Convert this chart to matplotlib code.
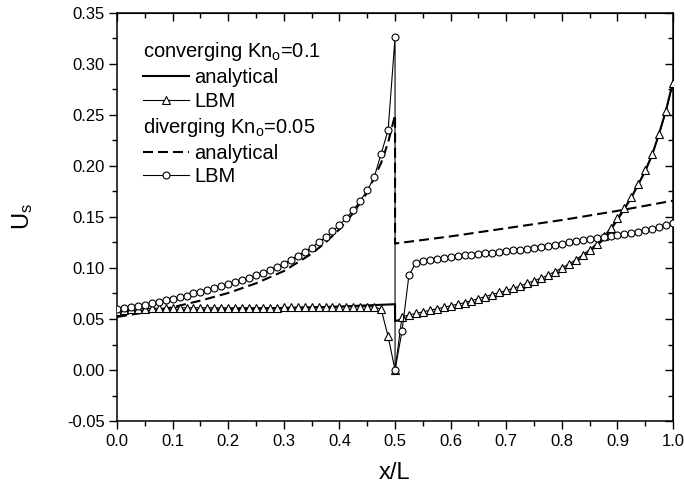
import matplotlib
matplotlib.use("Agg")
import matplotlib.pyplot as plt
from matplotlib.lines import Line2D
from matplotlib.ticker import MultipleLocator, FormatStrFormatter

plt.rcParams['font.family'] = ['Liberation Sans', 'DejaVu Sans']
plt.rcParams['mathtext.fontset'] = 'custom'
plt.rcParams['mathtext.rm'] = 'Liberation Sans'
plt.rcParams['mathtext.it'] = 'Liberation Sans:italic'

# converging channel, Kn_o = 0.1
conv_ana_x = [0.0, 0.1, 0.2, 0.3, 0.4, 0.5,
              0.5, 0.525, 0.55, 0.575, 0.6, 0.625, 0.65, 0.675, 0.7, 0.725,
              0.75, 0.775, 0.8, 0.825, 0.85, 0.875, 0.9, 0.925, 0.95,
              0.9625, 0.975, 0.9875, 1.0]
conv_ana_y = [0.0575, 0.0585, 0.0595, 0.0607, 0.0622, 0.0645,
              0.048, 0.051, 0.054, 0.057, 0.060, 0.063, 0.067, 0.071, 0.075, 0.079,
              0.084, 0.090, 0.097, 0.106, 0.116, 0.128, 0.147, 0.169, 0.195,
              0.211, 0.232, 0.255, 0.283]

conv_lbm_x = [0.0, 0.0125, 0.025, 0.0375, 0.05, 0.0625, 0.075, 0.0875, 0.1, 0.1125,
              0.125, 0.1375, 0.15, 0.1625, 0.175, 0.1875, 0.2, 0.2125, 0.225, 0.2375,
              0.25, 0.2625, 0.275, 0.2875, 0.3, 0.3125, 0.325, 0.3375, 0.35, 0.3625,
              0.375, 0.3875, 0.4, 0.4125, 0.425, 0.4375, 0.45, 0.4625, 0.475, 0.4875,
              0.5,
              0.5125, 0.525, 0.5375, 0.55, 0.5625, 0.575, 0.5875, 0.6, 0.6125, 0.625,
              0.6375, 0.65, 0.6625, 0.675, 0.6875, 0.7, 0.7125, 0.725, 0.7375, 0.75,
              0.7625, 0.775, 0.7875, 0.8, 0.8125, 0.825, 0.8375, 0.85, 0.8625, 0.875,
              0.8875, 0.9, 0.9125, 0.925, 0.9375, 0.95, 0.9625, 0.975, 0.9875, 1.0]
conv_lbm_y = [0.058, 0.059, 0.0595, 0.060, 0.060, 0.0605, 0.0605, 0.0605, 0.061, 0.061,
              0.061, 0.061, 0.061, 0.061, 0.061, 0.061, 0.061, 0.061, 0.061, 0.061,
              0.061, 0.061, 0.061, 0.061, 0.0615, 0.0615, 0.0615, 0.0615, 0.0615, 0.0615,
              0.0615, 0.0615, 0.062, 0.062, 0.062, 0.062, 0.062, 0.062, 0.0595, 0.033,
              0.000,
              0.052, 0.054, 0.0555, 0.057, 0.0585, 0.060, 0.0615, 0.063, 0.0645, 0.066,
              0.068, 0.070, 0.072, 0.074, 0.076, 0.078, 0.080, 0.0825, 0.085, 0.0875,
              0.090, 0.093, 0.0965, 0.100, 0.104, 0.108, 0.113, 0.118, 0.124, 0.131,
              0.139, 0.149, 0.159, 0.170, 0.182, 0.196, 0.212, 0.231, 0.254, 0.281]

# diverging channel, Kn_o = 0.05
div_ana_x = [0.0, 0.05, 0.1, 0.15, 0.2, 0.25, 0.3, 0.35, 0.375, 0.4, 0.425, 0.45,
             0.475, 0.4875, 0.5, 0.5, 0.6, 0.7, 0.8, 0.9, 1.0]
div_ana_y = [0.052, 0.0565, 0.0615, 0.068, 0.0755, 0.085, 0.097, 0.114, 0.125, 0.138,
             0.154, 0.174, 0.203, 0.223, 0.250, 0.124, 0.131, 0.139, 0.147, 0.156, 0.166]

div_lbm_x = [0.0, 0.0125, 0.025, 0.0375, 0.05, 0.0625, 0.075, 0.0875, 0.1, 0.1125,
             0.125, 0.1375, 0.15, 0.1625, 0.175, 0.1875, 0.2, 0.2125, 0.225, 0.2375,
             0.25, 0.2625, 0.275, 0.2875, 0.3, 0.3125, 0.325, 0.3375, 0.35, 0.3625,
             0.375, 0.3875, 0.4, 0.4125, 0.425, 0.4375, 0.45, 0.4625, 0.475, 0.4875,
             0.5, 0.5,
             0.5125, 0.525, 0.5375, 0.55, 0.5625, 0.575, 0.5875, 0.6, 0.6125, 0.625,
             0.6375, 0.65, 0.6625, 0.675, 0.6875, 0.7, 0.7125, 0.725, 0.7375, 0.75,
             0.7625, 0.775, 0.7875, 0.8, 0.8125, 0.825, 0.8375, 0.85, 0.8625, 0.875,
             0.8875, 0.9, 0.9125, 0.925, 0.9375, 0.95, 0.9625, 0.975, 0.9875, 1.0]
div_lbm_y = [0.060, 0.061, 0.062, 0.063, 0.064, 0.0655, 0.067, 0.0685, 0.070, 0.0715,
             0.073, 0.075, 0.0765, 0.078, 0.080, 0.082, 0.084, 0.086, 0.088, 0.090,
             0.093, 0.095, 0.098, 0.101, 0.104, 0.108, 0.112, 0.116, 0.120, 0.125,
             0.130, 0.136, 0.142, 0.149, 0.157, 0.166, 0.176, 0.189, 0.212, 0.235,
             0.326, 0.000,
             0.038, 0.093, 0.105, 0.107, 0.108, 0.109, 0.110, 0.111, 0.112, 0.1125,
             0.113, 0.114, 0.1145, 0.115, 0.116, 0.117, 0.1175, 0.118, 0.119, 0.120,
             0.121, 0.122, 0.123, 0.124, 0.125, 0.126, 0.127, 0.128, 0.129, 0.130,
             0.131, 0.132, 0.133, 0.1345, 0.1355, 0.137, 0.138, 0.140, 0.142, 0.144]

fig = plt.figure(figsize=(6.84, 4.92), dpi=100)
ax = fig.add_axes([0.1711, 0.1443, 0.8129, 0.8293])

dash = (4.8, 2.4)
ax.plot(conv_ana_x, conv_ana_y, color='black', lw=1.5, zorder=2)
ax.plot(div_ana_x, div_ana_y, color='black', lw=1.5, dashes=dash, zorder=2)
ax.plot(conv_lbm_x, conv_lbm_y, color='black', lw=0.8, marker='^', ms=5.5,
        mfc='white', mec='black', mew=0.8, zorder=3)
ax.plot(div_lbm_x, div_lbm_y, color='black', lw=0.8, marker='o', ms=5,
        mfc='white', mec='black', mew=0.8, zorder=3)

ax.set_xlim(0, 1.0)
ax.set_ylim(-0.05, 0.35)
ax.xaxis.set_major_locator(MultipleLocator(0.1))
ax.xaxis.set_minor_locator(MultipleLocator(0.05))
ax.yaxis.set_major_locator(MultipleLocator(0.05))
ax.yaxis.set_minor_locator(MultipleLocator(0.025))
ax.xaxis.set_major_formatter(FormatStrFormatter('%.1f'))
ax.yaxis.set_major_formatter(FormatStrFormatter('%.2f'))
ax.tick_params(which='both', direction='out', width=1.0, labelsize=12, pad=3)
ax.tick_params(which='major', length=6)
ax.tick_params(which='minor', length=3.5)
for sp in ax.spines.values():
    sp.set_linewidth(1.1)

# inward ticks on top and right
top = ax.secondary_xaxis('top')
top.xaxis.set_major_locator(MultipleLocator(0.1))
top.xaxis.set_minor_locator(MultipleLocator(0.05))
top.tick_params(which='both', direction='in', width=1.0, labeltop=False)
top.tick_params(which='major', length=6)
top.tick_params(which='minor', length=3.5)
right = ax.secondary_yaxis('right')
right.yaxis.set_major_locator(MultipleLocator(0.05))
right.yaxis.set_minor_locator(MultipleLocator(0.025))
right.tick_params(which='both', direction='in', width=1.0, labelright=False)
right.tick_params(which='major', length=6)
right.tick_params(which='minor', length=3.5)

ax.set_xlabel('x/L', fontsize=17, labelpad=10)
ax.set_ylabel(r'U$_\mathrm{s}$', fontsize=17, labelpad=23)

# legend with two group headers
blank = Line2D([], [], linestyle='none')
handles = [
    blank,
    Line2D([], [], color='black', lw=1.5),
    Line2D([], [], color='black', lw=0.8, marker='^', ms=5.5, mfc='white', mew=0.8),
    blank,
    Line2D([], [], color='black', lw=1.5, dashes=dash),
    Line2D([], [], color='black', lw=0.8, marker='o', ms=5, mfc='white', mew=0.8),
]
labels = [r'converging Kn$_\mathrm{o}$=0.1', 'analytical', 'LBM',
          r'diverging Kn$_\mathrm{o}$=0.05', 'analytical', 'LBM']
fs = 14.5
hl = 2.3
htp = 0.25
leg = ax.legend(handles, labels, loc='upper left', bbox_to_anchor=(0.046, 0.933),
                frameon=False, fontsize=fs, handlelength=hl, handletextpad=htp,
                borderpad=0, borderaxespad=0, labelspacing=0.24, numpoints=1)
shift = (hl + htp) * fs * fig.dpi / 72.0
for i in (0, 3):
    leg.get_texts()[i].set_x(-shift)

fig.savefig('out.png', dpi=100)
